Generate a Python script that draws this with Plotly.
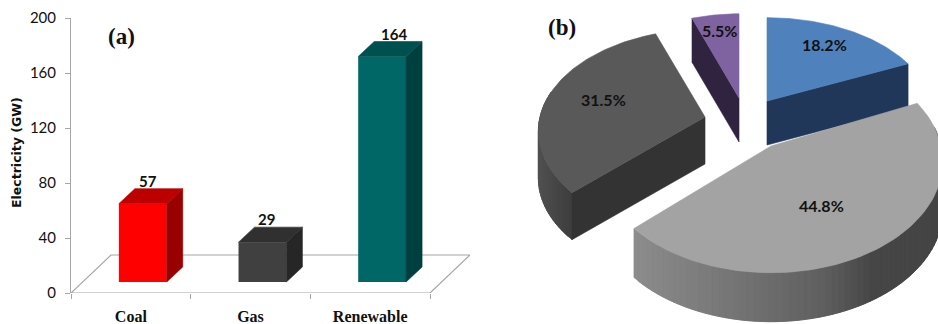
import numpy as np
import plotly.graph_objects as go

# Panel (a): installed electricity capacity
CATEGORIES = ["Coal", "Gas", "Renewable"]
CAPACITY_GW = [57, 29, 164]
Y_TICKS = [0, 40, 80, 120, 160, 200]

# Panel (b): generation shares, clockwise from twelve o'clock
SHARE_LABELS = ["18.2%", "44.8%", "31.5%", "5.5%"]
SHARES = [18.2, 44.8, 31.5, 5.5]

# Canvas
W, H = 938, 324
NARROW = "Lato, sans-serif"
SERIF = "Liberation Serif, serif"
INK = "#111111"

# Plot box of panel (a), in pixels
AX_LEFT, AX_RIGHT, AX_TOP, AX_BOTTOM = 71, 470, 18, 293
CAT_PX = 119.67
UNIT_PX = (AX_BOTTOM - AX_TOP) / 200

# Oblique depth of the floor and of the bars, in axis units
FLOOR_DX, FLOOR_DY = 40 / CAT_PX, 38 / UNIT_PX
BAR_DX, BAR_DY = 16 / CAT_PX, 15 / UNIT_PX
BAR_BASE = 8
BAR_SHIFT = 0.1
BAR_WIDTH = 0.4
FRONT = ["#FF0000", "#404040", "#006666"]
TOP = ["#BC0000", "#303030", "#005050"]
SIDE = ["#990000", "#262626", "#003F3F"]
VALUE_NUDGE = [5, 4, 12]

fig = go.Figure()


def face(xs, ys, color, xa="x", ya="y"):
    fig.add_trace(go.Scatter(
        x=xs, y=ys, mode="lines", fill="toself", fillcolor=color,
        line=dict(color=color, width=0.6), xaxis=xa, yaxis=ya,
        hoverinfo="skip", showlegend=False,
    ))


# Front faces come from a real bar trace, side and top are offset from the same values
positions = [i + BAR_SHIFT for i in range(len(CATEGORIES))]
fig.add_trace(go.Bar(
    x=positions, y=CAPACITY_GW, base=BAR_BASE, width=BAR_WIDTH,
    marker=dict(color=FRONT, line=dict(width=0)), showlegend=False,
    xaxis="x", yaxis="y",
))
for pos, val, c_top, c_side in zip(positions, CAPACITY_GW, TOP, SIDE):
    left, right = pos - BAR_WIDTH / 2, pos + BAR_WIDTH / 2
    low, high = BAR_BASE, BAR_BASE + val
    face([right, right + BAR_DX, right + BAR_DX, right, right],
         [low, low + BAR_DY, high + BAR_DY, high, low], c_side)
    face([left, left + BAR_DX, right + BAR_DX, right, left],
         [high, high + BAR_DY, high + BAR_DY, high, high], c_top)

annotations = []
for pos, val, nudge in zip(positions, CAPACITY_GW, VALUE_NUDGE):
    annotations.append(dict(
        x=pos, y=BAR_BASE + val + BAR_DY, xref="x", yref="y", text=f"<b>{val}</b>",
        showarrow=False, xshift=nudge, yanchor="bottom", yshift=-3,
        font=dict(family=NARROW, size=15, color=INK),
    ))

# Floor parallelogram behind the bars; its front edge serves as the category axis line
x0, x1 = -0.5, 2.5
floor_path = (
    f"M {x0} 0 L {x1} 0 L {x1 + FLOOR_DX} {FLOOR_DY} "
    f"L {x0 + FLOOR_DX} {FLOOR_DY} Z"
)
shapes = [dict(type="path", path=floor_path, xref="x", yref="y", layer="below",
               line=dict(color="#A6A6A6", width=1.2))]

# Panel (b): each slice is a projected sector with its own exploded apex.
# Apex and radii are in pixels; angles run clockwise from twelve o'clock.
TILT_PERSPECTIVE = 0.14
SLICE_SHAPE = [
    dict(apex=(767, 101), a=164, b=95, depth=44, top="#4F81BD", cut="#20375A"),
    dict(apex=(771, 146), a=170, b=109, depth=49, top="#A3A3A3", cut=None),
    dict(apex=(705, 117), a=165, b=100, depth=47, top="#595959", cut="#333333"),
    dict(apex=(739, 98), a=157, b=96, depth=44, top="#7F63A1", cut="#30233F"),
]


def project(shape, theta):
    sx, sy = np.sin(theta), np.cos(theta)
    w = 1 + TILT_PERSPECTIVE * sy
    return (shape["apex"][0] + shape["a"] * sx / w,
            shape["apex"][1] - shape["b"] * sy / w)


def ramp(x, stops, levels):
    g = int(round(float(np.interp(x, stops, levels))))
    return f"rgb({g},{g},{g})"


edges = np.radians(np.cumsum([0] + SHARES) * 3.6)
spans = list(zip(edges[:-1], edges[1:]))


def cut_face(shape, theta):
    ex, ey = project(shape, theta)
    ax, ay = shape["apex"]
    d = shape["depth"]
    face([ax, ex, ex, ax, ax], [ay, ey, ey + d, ay + d, ay], shape["cut"], "x2", "y2")


def rim(shape, t0, t1, stops, levels, steps=48):
    # Shaded outer wall: strips overlap their neighbour so no seams show through
    d = shape["depth"]
    ts = np.linspace(t0, t1, steps + 1)
    for i in range(steps):
        a, b = ts[i], ts[min(i + 2, steps)]
        xa_, ya_ = project(shape, a)
        xb_, yb_ = project(shape, b)
        mid = project(shape, ts[i])[0]
        face([xa_, xb_, xb_, xa_, xa_], [ya_, yb_, yb_ + d, ya_ + d, ya_],
             ramp(mid, stops, levels), "x2", "y2")


def top_face(shape, t0, t1):
    ts = np.linspace(t0, t1, 90)
    pts = [project(shape, t) for t in ts]
    ax, ay = shape["apex"]
    face([ax] + [p[0] for p in pts] + [ax], [ay] + [p[1] for p in pts] + [ay],
         shape["top"], "x2", "y2")


blue, grey, dark, purple = SLICE_SHAPE
(b0, b1), (g0, g1), (d0, d1), (p0, p1) = spans

# Far slices first, the large near slice last so it overlaps the blue cut
rim(dark, d0, np.radians(285), [537, 575], [82, 60], steps=30)
cut_face(dark, d0)
top_face(dark, d0, d1)

cut_face(purple, p0)
top_face(purple, p0, p1)

cut_face(blue, b1)
top_face(blue, b0, b1)

rim(grey, g1, np.radians(80), [633, 820, 870, 940], [140, 95, 70, 68], steps=70)
top_face(grey, g0, g1)

PIE_LABEL_XY = [(824, 44), (821, 205), (603, 99), (719, 30)]
for text, (lx, ly) in zip(SHARE_LABELS, PIE_LABEL_XY):
    annotations.append(dict(
        x=lx, y=ly, xref="x2", yref="y2", text=f"<b>{text}</b>", showarrow=False,
        font=dict(family=NARROW, size=16, color=INK),
    ))

# Panel letters and the y axis title
for text, px, py in [("<b>(a)</b>", 121, 36), ("<b>(b)</b>", 562, 28)]:
    annotations.append(dict(
        x=px / W, y=1 - py / H, xref="paper", yref="paper", text=text, showarrow=False,
        xanchor="center", yanchor="middle",
        font=dict(family=SERIF, size=23, color=INK),
    ))
annotations.append(dict(
    x=16 / W, y=1 - 153 / H, xref="paper", yref="paper", text="<b>Electricity (GW)</b>",
    textangle=-90, showarrow=False, xanchor="center", yanchor="middle",
    font=dict(family="DejaVu Sans, sans-serif", size=12.5, color=INK),
))

fig.update_layout(
    width=W, height=H,
    margin=dict(l=0, r=0, t=0, b=0),
    paper_bgcolor="white", plot_bgcolor="rgba(0,0,0,0)",
    barmode="overlay",
    showlegend=False,
    annotations=annotations,
    shapes=shapes,
    xaxis=dict(
        automargin=False,
        domain=[AX_LEFT / W, AX_RIGHT / W],
        range=[x0, x1 + FLOOR_DX],
        tickmode="array", tickvals=[0, 1, 2], ticktext=[f"<b>{c}</b>" for c in CATEGORIES],
        ticks="", showgrid=False, zeroline=False, showline=False,
        tickfont=dict(family=SERIF, size=16, color=INK),
        ticklabelstandoff=12,
        minor=dict(tickmode="array", tickvals=[x0, 0.5, 1.5, x1], ticks="outside",
                   ticklen=5, tickcolor="#A6A6A6", tickwidth=1, showgrid=False),
    ),
    yaxis=dict(
        automargin=False,
        domain=[1 - AX_BOTTOM / H, 1 - AX_TOP / H],
        range=[0, 200],
        tickmode="array", tickvals=Y_TICKS, tickprefix="<b>", ticksuffix="</b>",
        ticks="outside", ticklen=5, tickcolor="#A6A6A6", tickwidth=1,
        ticklabelstandoff=6,
        showgrid=False, zeroline=False, showline=True, linecolor="#A6A6A6", linewidth=1,
        tickfont=dict(family=NARROW, size=15, color=INK),
    ),
    xaxis2=dict(domain=[520 / W, 1], range=[520, W], visible=False, anchor="y2", automargin=False),
    yaxis2=dict(domain=[0, 1], range=[H, 0], visible=False, anchor="x2", automargin=False),
)

fig.write_html("out.html", config=dict(displayModeBar=False))
